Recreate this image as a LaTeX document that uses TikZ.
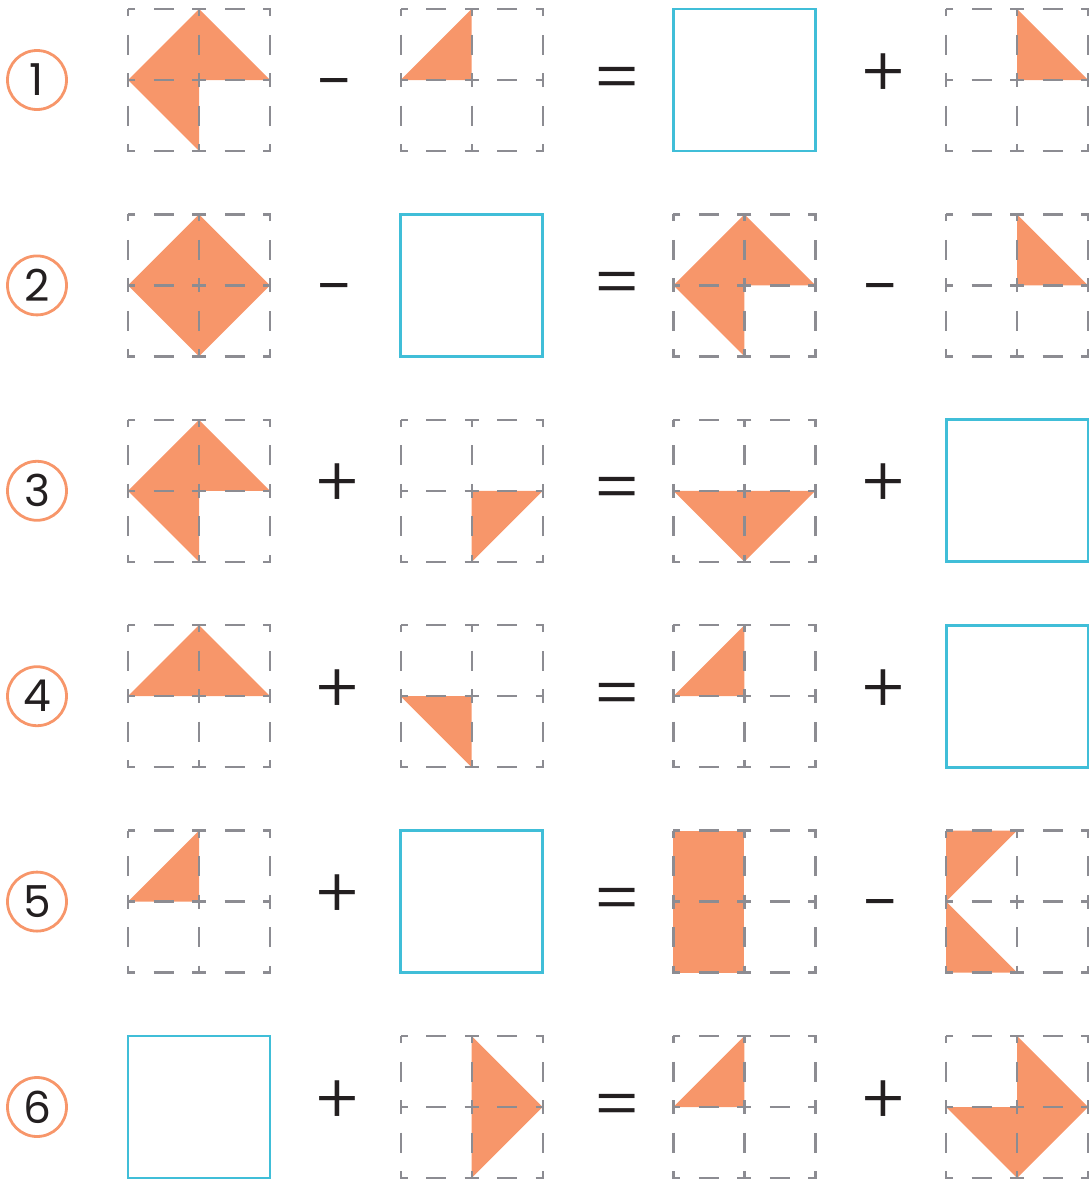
\documentclass[tikz,border=0pt]{standalone}
\usepackage{fontspec}
\setmainfont{Poppins}
\newfontfamily\opfont{Poppins}[UprightFont={* Light}]
\usepackage{xcolor}
\definecolor{piecefill}{RGB}{247,150,106}
\definecolor{answerline}{RGB}{64,190,216}
\definecolor{gridgray}{RGB}{140,140,146}
\definecolor{inkblack}{RGB}{35,31,32}

\tikzset{
  piece/.style={fill=piecefill},
  gridline/.style={draw=gridgray, line width=2.4pt,
    dash pattern=on 14pt off 18.5pt on 20pt off 18.5pt, dash phase=7pt},
  answer/.style={draw=answerline, line width=2.8pt},
  numcircle/.style={circle, draw=piecefill, line width=2.8pt, minimum size=59pt,
    inner sep=0pt, text=inkblack, font=\fontsize{44}{44}\selectfont},
  operator/.style={text=inkblack, inner sep=0pt, anchor=base,
    font=\opfont\fontsize{70}{70}\selectfont}
}

% origin of the 2x2 grid in column #1, row #2
\newcommand{\cellx}[1]{128+272.7*(#1-1)}
\newcommand{\celly}[1]{9+205.4*(#1-1)}

% grid with orange pieces
\newcommand{\piececell}[3]{%
  \begin{scope}[shift={({\cellx{#1}},{\celly{#2}})}, x=71pt, y=-71pt]
    \fill[piece] #3;
    \draw[gridline] (0,0) rectangle (2,2) (0,1) -- (2,1) (1,0) -- (1,2);
  \end{scope}}

% empty answer square
\newcommand{\answercell}[2]{%
  \begin{scope}[shift={({\cellx{#1}},{\celly{#2}})}, x=71pt, y=-71pt]
    \draw[answer] (0,0) rectangle (2,2);
  \end{scope}}

\begin{document}
\begin{tikzpicture}[x=1pt, y=-1pt]
    \useasboundingbox (0,0) rectangle (1089,1183);

    % row numbers and operators (baseline offsets: - 97, = 93, + 88)
    \foreach \r/\a/\da/\b/\db in {1/-/97/+/88, 2/-/97/-/97, 3/+/88/+/88,
                                  4/+/88/+/88, 5/+/88/-/97, 6/+/88/+/88} {
        \node[numcircle] (num\r) at (37,{\celly{\r}+71}) {\r};
        \node[operator] (opa\r) at (337,{\celly{\r}+\da}) {\a};
        \node[operator] (eq\r) at (617,{\celly{\r}+93}) {=};
        \node[operator] (opb\r) at (883,{\celly{\r}+\db}) {\b};
    }

    % row 1
    \piececell{1}{1}{(0,1) -- (1,0) -- (2,1) -- (1,1) -- (1,2) -- cycle}
    \piececell{2}{1}{(0,1) -- (1,0) -- (1,1) -- cycle}
    \answercell{3}{1}
    \piececell{4}{1}{(1,0) -- (2,1) -- (1,1) -- cycle}

    % row 2
    \piececell{1}{2}{(1,0) -- (2,1) -- (1,2) -- (0,1) -- cycle}
    \answercell{2}{2}
    \piececell{3}{2}{(0,1) -- (1,0) -- (2,1) -- (1,1) -- (1,2) -- cycle}
    \piececell{4}{2}{(1,0) -- (2,1) -- (1,1) -- cycle}

    % row 3
    \piececell{1}{3}{(0,1) -- (1,0) -- (2,1) -- (1,1) -- (1,2) -- cycle}
    \piececell{2}{3}{(1,1) -- (2,1) -- (1,2) -- cycle}
    \piececell{3}{3}{(0,1) -- (2,1) -- (1,2) -- cycle}
    \answercell{4}{3}

    % row 4
    \piececell{1}{4}{(0,1) -- (1,0) -- (2,1) -- cycle}
    \piececell{2}{4}{(0,1) -- (1,1) -- (1,2) -- cycle}
    \piececell{3}{4}{(0,1) -- (1,0) -- (1,1) -- cycle}
    \answercell{4}{4}

    % row 5
    \piececell{1}{5}{(0,1) -- (1,0) -- (1,1) -- cycle}
    \answercell{2}{5}
    \piececell{3}{5}{(0,0) rectangle (1,2)}
    \piececell{4}{5}{(0,0) -- (1,0) -- (0,1) -- cycle (0,1) -- (1,2) -- (0,2) -- cycle}

    % row 6
    \answercell{1}{6}
    \piececell{2}{6}{(1,0) -- (2,1) -- (1,2) -- cycle}
    \piececell{3}{6}{(0,1) -- (1,0) -- (1,1) -- cycle}
    \piececell{4}{6}{(1,0) -- (2,1) -- (1,2) -- (0,1) -- (1,1) -- cycle}
\end{tikzpicture}
\end{document}
